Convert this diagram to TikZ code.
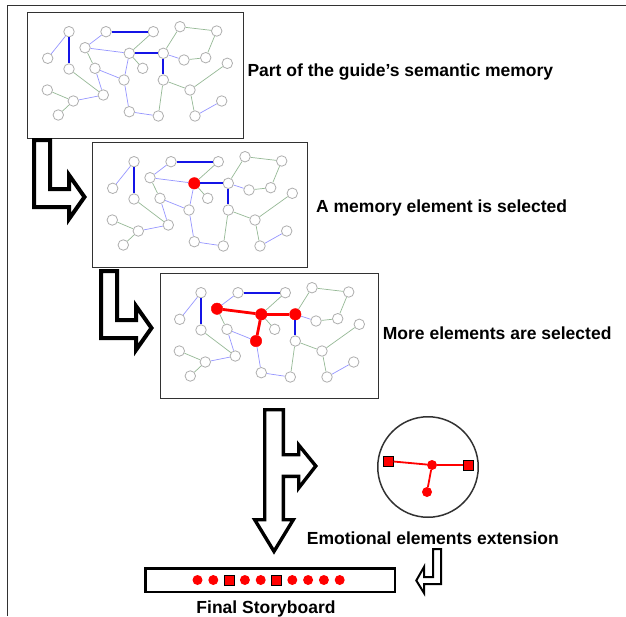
\documentclass[tikz,border=0pt]{standalone}
\usepackage{fontspec}
\setmainfont{Liberation Sans}
\definecolor{lblue}{RGB}{150,150,255}
\definecolor{lgreen}{RGB}{150,185,150}
\definecolor{sblue}{RGB}{20,20,230}
\definecolor{ngray}{RGB}{175,175,175}
\definecolor{boxc}{RGB}{50,50,50}
\tikzset{
  gn/.style={circle,draw=ngray,fill=white,line width=0.8pt,minimum size=10.5pt,inner sep=0pt},
  rn/.style={circle,draw=red,fill=red,minimum size=11.5pt,inner sep=0pt},
  lb/.style={draw=lblue,line width=0.7pt},
  lg/.style={draw=lgreen,line width=0.7pt},
  sb/.style={draw=sblue,line width=2pt},
  re/.style={draw=red,line width=2.8pt},
  stagebox/.style={draw=boxc,line width=1.3pt,fill=white,anchor=north west,inner sep=0pt},
  blockarrow/.style={draw=black,fill=white,line join=miter},
  lbl/.style={font=\fontsize{17.5}{20}\selectfont\bfseries,inner sep=0pt},
  sq/.style={rectangle,draw=black,fill=red,line width=1pt,minimum size=10pt,inner sep=0pt},
  rd/.style={circle,fill=red,minimum size=10pt,inner sep=0pt},
}
% #1 prefix, #2 style G, #3 style H, #4 style I, #5 style P, #6 edge G-H, #7 edge H-I, #8 edge H-P
\newcommand\memgraph[8]{%
  \node[gn] (#1A) at (43,20.7) {};
  \node[gn] (#1B) at (80,20.7) {};
  \node[gn] (#1C) at (127.3,20.7) {};
  \node[gn] (#1D) at (154,15.7) {};
  \node[gn] (#1E) at (190.7,20) {};
  \node[gn] (#1F) at (21.7,47.3) {};
  \node[#2] (#1G) at (59,36.7) {};
  \node[#3] (#1H) at (103.3,42.3) {};
  \node[#4] (#1I) at (137.3,42.3) {};
  \node[gn] (#1J) at (158,49) {};
  \node[gn] (#1K) at (179.7,46.7) {};
  \node[gn] (#1L) at (43,58) {};
  \node[gn] (#1M) at (69,57.3) {};
  \node[gn] (#1N) at (116.7,57.3) {};
  \node[gn] (#1O) at (201.3,52.3) {};
  \node[#5] (#1P) at (98,69) {};
  \node[gn] (#1Q) at (137.3,69) {};
  \node[gn] (#1R) at (21.3,79) {};
  \node[gn] (#1S) at (164,79) {};
  \node[gn] (#1T) at (77.3,84) {};
  \node[gn] (#1U) at (47.3,90) {};
  \node[gn] (#1V) at (195.7,90) {};
  \node[gn] (#1W) at (32.3,104) {};
  \node[gn] (#1X) at (103.3,100.7) {};
  \node[gn] (#1Y) at (132.3,105) {};
  \node[gn] (#1Z) at (169,105) {};
  \draw[lb] (#1F) -- (#1A);
  \draw[sb] (#1A) -- (#1L);
  \draw[sb] (#1B) -- (#1C);
  \draw[lb] (#1B) -- (#1G);
  \draw[#6] (#1G) -- (#1H);
  \draw[lg] (#1C) -- (#1H);
  \draw[#7] (#1H) -- (#1I);
  \draw[lg] (#1I) -- (#1D);
  \draw[lg] (#1D) -- (#1E);
  \draw[lg] (#1E) -- (#1K);
  \draw[lg] (#1K) -- (#1J);
  \draw[lb] (#1J) -- (#1I);
  \draw[sb] (#1I) -- (#1Q);
  \draw[lg] (#1H) -- (#1N);
  \draw[#8] (#1H) -- (#1P);
  \draw[lg] (#1G) -- (#1M);
  \draw[lb] (#1M) -- (#1P);
  \draw[lb] (#1M) -- (#1T);
  \draw[lg] (#1L) -- (#1T);
  \draw[lb] (#1T) -- (#1U);
  \draw[lg] (#1R) -- (#1U);
  \draw[lg] (#1U) -- (#1W);
  \draw[lb] (#1P) -- (#1X);
  \draw[lb] (#1X) -- (#1Y);
  \draw[lg] (#1Y) -- (#1Q);
  \draw[lg] (#1Q) -- (#1S);
  \draw[lg] (#1S) -- (#1O);
  \draw[lg] (#1S) -- (#1Z);
  \draw[lb] (#1Z) -- (#1V);
}
\begin{document}
\begin{tikzpicture}[x=1pt,y=-1pt]
\useasboundingbox (0,0) rectangle (626,616);
% frame
\draw[draw=boxc,line width=1.4pt] (7.3,616) -- (7.3,5.3) -- (626,5.3);

% box 1
\node[stagebox,minimum width=216pt,minimum height=126pt] (box1) at (26.6,11.6) {};
\begin{scope}[shift={(26,11)}]
  \memgraph{a}{gn}{gn}{gn}{gn}{lb}{sb}{lb}
\end{scope}
\node[lbl,anchor=base west] (t1) at (247.3,76) {Part of the guide’s semantic memory};

% arrow 1
\draw[blockarrow,line width=4pt] (34,140) -- (50,140) -- (50,189) -- (69,189) -- (69,175) -- (84.5,197) -- (69,219) -- (69,207) -- (34,207) -- cycle;

% box 2
\node[stagebox,minimum width=215pt,minimum height=125pt] (box2) at (91.6,141.6) {};
\begin{scope}[shift={(91,141)}]
  \memgraph{b}{gn}{rn}{gn}{gn}{lb}{sb}{lb}
\end{scope}
\node[lbl,anchor=base west] (t2) at (316,212.5) {A memory element is selected};

% arrow 2
\begin{scope}[shift={(67,131)}]
\draw[blockarrow,line width=4pt] (34,140) -- (50,140) -- (50,189) -- (69,189) -- (69,175) -- (84.5,197) -- (69,219) -- (69,207) -- (34,207) -- cycle;
\end{scope}

% box 3
\node[stagebox,minimum width=218pt,minimum height=125pt] (box3) at (159.6,272.6) {};
\begin{scope}[shift={(158,272)}]
  \memgraph{c}{rn}{rn}{rn}{rn}{re}{re}{re}
\end{scope}
\node[lbl,anchor=base west] (t3) at (382.7,339.3) {More elements are selected};

% big down arrow with side branch
\draw[blockarrow,line width=3.4pt] (264.7,409.7) -- (283.3,409.7) -- (283.3,454.7) -- (298.7,454.7) -- (298.7,445) -- (315.8,466) -- (298.7,488) -- (298.7,476.3) -- (283.3,476.3) -- (283.3,519.7) -- (293.3,519.7) -- (274,551.4) -- (254.7,519.7) -- (264.7,519.7) -- cycle;

% emotional circle
\node[circle,draw=boxc,line width=1.5pt,minimum size=100.5pt,inner sep=0pt] (emo) at (428,467) {};
\node[sq] (esl) at (388,461) {};
\node[sq] (esr) at (468,465) {};
\node[rd] (edc) at (432,465) {};
\node[rd] (edb) at (427,492) {};
\draw[draw=red,line width=1.8pt] (esl) -- (edc);
\draw[draw=red,line width=1.8pt] (edc) -- (esr);
\draw[draw=red,line width=1.8pt] (edc) -- (edb);
\node[lbl,anchor=base west] (t4) at (306.7,544) {Emotional elements extension};

% small arrow into storyboard
\draw[blockarrow,line width=2pt] (433,549) -- (441,549) -- (441,584) -- (424,584) -- (424,593) -- (416.3,580.5) -- (424,567) -- (424,577) -- (433,577) -- cycle;

% storyboard
\node[draw=black,line width=2.5pt,minimum width=249.5pt,minimum height=23.5pt,inner sep=0pt] (sb) at (270,580) {};
\node[rd] (s0) at (197.5,580) {};
\node[rd] (s1) at (213.3,580) {};
\node[sq] (s2) at (229.1,580) {};
\node[rd] (s3) at (244.9,580) {};
\node[rd] (s4) at (260.7,580) {};
\node[sq] (s5) at (276.5,580) {};
\node[rd] (s6) at (292.3,580) {};
\node[rd] (s7) at (308.1,580) {};
\node[rd] (s8) at (323.9,580) {};
\node[rd] (s9) at (339.7,580) {};
\node[lbl,anchor=base] (t5) at (266,613.3) {Final Storyboard};
\end{tikzpicture}
\end{document}
